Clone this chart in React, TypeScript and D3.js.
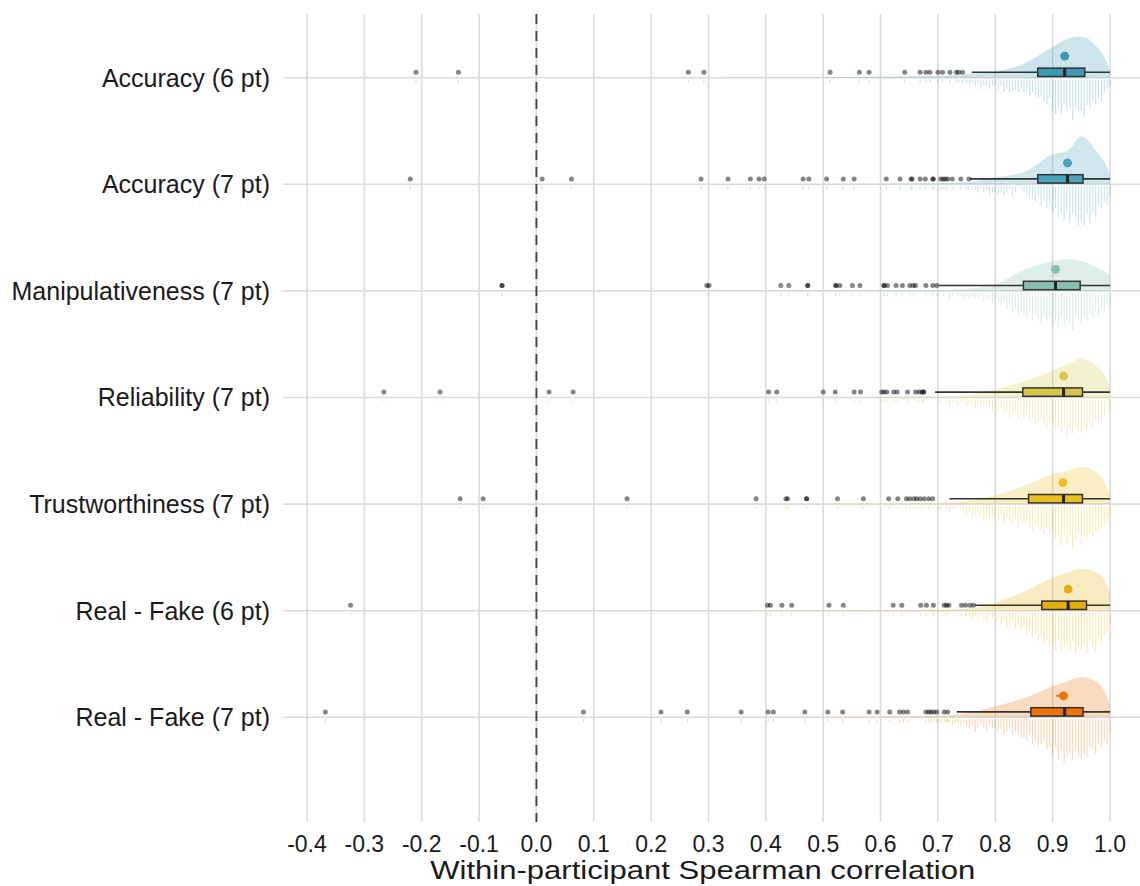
import React, { useEffect, useRef } from 'react';
import * as d3 from 'd3';

// raincloud: half density above, box + outliers on the line, rug below

const categories = [
  'Accuracy (6 pt)',
  'Accuracy (7 pt)',
  'Manipulativeness (7 pt)',
  'Reliability (7 pt)',
  'Trustworthiness (7 pt)',
  'Real - Fake (6 pt)',
  'Real - Fake (7 pt)',
];

const colors = ['#3b9ab2', '#4aa2bb', '#86bfb0', '#d3c84a', '#e8bf1e', '#e4b00e', '#ec7408'];

const xTicks = [-0.4, -0.3, -0.2, -0.1, 0, 0.1, 0.2, 0.3, 0.4, 0.5, 0.6, 0.7, 0.8, 0.9, 1.0];
const xTickLabels = ['-0.4', '-0.3', '-0.2', '-0.1', '0.0', '0.1', '0.2', '0.3', '0.4', '0.5', '0.6', '0.7', '0.8', '0.9', '1.0'];

// box stats
const whiskerLow = [0.759, 0.756, 0.702, 0.695, 0.72, 0.765, 0.733];
const q1 = [0.874, 0.874, 0.849, 0.848, 0.858, 0.881, 0.862];
const medians = [0.921, 0.926, 0.905, 0.919, 0.919, 0.927, 0.921];
const q3 = [0.956, 0.953, 0.948, 0.952, 0.952, 0.959, 0.953];
const whiskerHigh = [1, 1, 1, 1, 1, 1, 1];

// point estimate with interval, drawn above the box
const centers = [0.921, 0.926, 0.905, 0.919, 0.918, 0.927, 0.919];
const ciLow = [0.915, 0.918, 0.899, 0.914, 0.911, 0.921, 0.906];
const ciHigh = [0.927, 0.933, 0.911, 0.925, 0.925, 0.933, 0.926];

const outliers = [
  [-0.21, -0.136, 0.265, 0.292, 0.512, 0.563, 0.58, 0.642, 0.669, 0.679, 0.686, 0.7, 0.708, 0.721, 0.732, 0.736, 0.743],
  [-0.22, 0.01, 0.061, 0.287, 0.334, 0.373, 0.388, 0.397, 0.465, 0.475, 0.506, 0.535, 0.554, 0.61, 0.634, 0.653, 0.655, 0.669, 0.678, 0.691, 0.692, 0.705, 0.709, 0.713, 0.717, 0.725, 0.74, 0.754],
  [-0.06, -0.06, 0.297, 0.301, 0.426, 0.44, 0.473, 0.473, 0.522, 0.522, 0.529, 0.551, 0.564, 0.606, 0.606, 0.612, 0.627, 0.638, 0.651, 0.657, 0.661, 0.679, 0.691, 0.698],
  [-0.266, -0.168, 0.022, 0.064, 0.405, 0.419, 0.5, 0.521, 0.554, 0.565, 0.602, 0.606, 0.611, 0.623, 0.629, 0.647, 0.661, 0.667, 0.672, 0.675, 0.675],
  [-0.133, -0.093, 0.158, 0.383, 0.435, 0.438, 0.471, 0.471, 0.525, 0.57, 0.614, 0.63, 0.645, 0.651, 0.658, 0.663, 0.669, 0.676, 0.684, 0.691],
  [-0.324, 0.403, 0.408, 0.428, 0.445, 0.51, 0.535, 0.622, 0.637, 0.67, 0.68, 0.692, 0.711, 0.715, 0.719, 0.741, 0.748, 0.756, 0.762],
  [-0.368, 0.082, 0.217, 0.263, 0.357, 0.404, 0.413, 0.468, 0.508, 0.534, 0.58, 0.594, 0.616, 0.633, 0.64, 0.647, 0.679, 0.684, 0.688, 0.693, 0.698, 0.711, 0.717],
];

// density
const densityX = [0.3, 0.4, 0.5, 0.55, 0.6, 0.65, 0.7, 0.75, 0.8, 0.85, 0.9, 0.925, 0.95, 0.975, 1.0];
const densities = [
  [0, 0.04, 0.1, 0.14, 0.2, 0.3, 0.4, 0.7, 1.2, 2.8, 6.2, 7.8, 8.2, 6.4, 1.2],
  [0, 0.04, 0.08, 0.1, 0.12, 0.16, 0.2, 0.4, 1.4, 2.4, 6.0, 6.6, 9.6, 6.8, 1.6],
  [0, 0.04, 0.1, 0.1, 0.1, 0.16, 0.2, 0.4, 1.4, 4.2, 6.0, 6.4, 6.0, 4.8, 3.0],
  [0, 0.04, 0.08, 0.1, 0.12, 0.16, 0.2, 0.4, 1.6, 3.2, 5.4, 6.6, 7.8, 6.4, 2.2],
  [0, 0.04, 0.08, 0.1, 0.12, 0.16, 0.2, 0.6, 1.8, 3.6, 6.0, 6.6, 7.4, 6.4, 1.6],
  [0, 0.04, 0.08, 0.1, 0.12, 0.16, 0.2, 0.4, 1.6, 3.8, 6.6, 7.6, 8.4, 7.8, 3.6],
  [0, 0.04, 0.08, 0.1, 0.12, 0.2, 0.3, 0.8, 2.2, 3.8, 6.2, 7.2, 8.0, 7.2, 2.4],
];

// rug counts, bins of 0.005 from 0.700 to 1.000
const rugStart = 0.7;
const rugStep = 0.005;
const rugCounts = [
  [0,0,0,0,0,0,0,0,0,0, 1,1,1,2,1,3,2,2,3,2, 2,3,2,4,3,4,4,3,4,3, 4,4,5,4,5,6,5,7,8,6, 10,11,9,11,8,10,9,13,9,10, 10,12,8,9,7,8,6,7,4,3, 2],
  [0,0,0,0,0,0,0,0,0,0, 1,0,1,1,2,1,2,1,3,2, 2,3,2,3,2,1,3,2,0,1, 2,3,4,4,5,3,6,5,7,6, 8,7,10,9,11,8,12,9,10,13, 11,13,9,12,8,10,6,7,5,6, 3],
  [1,0,1,0,2,1,0,1,1,2, 1,2,1,2,2,1,3,2,2,3, 2,3,4,3,5,4,6,5,7,6, 7,8,6,9,7,8,10,7,9,8, 10,9,12,8,11,9,10,12,8,9, 10,8,9,7,8,6,7,5,6,4, 3],
  [1,1,0,1,2,1,1,2,1,1, 2,1,2,3,1,2,3,2,3,4, 5,4,3,5,4,6,5,4,6,5, 6,5,7,6,8,7,6,8,9,7, 8,10,9,11,9,12,10,11,9,10, 11,9,10,8,9,7,8,6,5,4, 3],
  [1,1,0,1,2,1,1,0,1,2, 3,2,4,3,2,3,5,3,4,3, 4,5,3,6,4,5,6,4,7,5, 6,5,7,8,6,7,8,9,7,8, 9,11,10,13,9,12,10,14,11,9, 12,10,11,9,10,8,9,7,6,5, 3],
  [0,0,0,0,0,0,0,0,0,0, 1,1,2,1,2,1,2,3,1,2, 3,2,4,3,5,4,3,5,4,6, 5,7,6,8,7,9,8,10,9,11, 10,12,9,13,11,10,12,9,13,11, 12,10,13,9,11,12,8,10,7,6, 4],
  [1,1,0,1,1,2,1,1,2,1, 2,3,2,4,3,2,3,4,2,3, 3,4,3,5,4,3,5,4,5,6, 6,7,5,8,7,9,8,7,10,9, 11,9,13,10,14,12,11,13,10,12, 13,11,12,9,10,11,8,9,7,8, 4],
];

const width = 1140;
const height = 886;
const panel = { left: 283, right: 1140, top: 14, bottom: 822 };
const font = "'Liberation Sans', Arial, Helvetica, sans-serif";

const App = () => {
  const chartRef = useRef(null);

  useEffect(() => {
    const svg = d3.select(chartRef.current);
    svg.selectAll('*').remove();

    const xScale = d3.scaleLinear().domain([-0.4, 1.0]).range([307, 1110]);
    const yScale = d3.scalePoint().domain(categories).range([77.7, 717.3]);
    const densScale = d3.scaleLinear().domain([0, 1]).range([0, 5]);
    const rugScale = d3.scaleLinear().domain([0, 1]).range([0, 3.1]);

    // grid
    svg.append('g')
      .selectAll('line')
      .data(xTicks)
      .enter()
      .append('line')
      .attr('x1', d => xScale(d))
      .attr('x2', d => xScale(d))
      .attr('y1', panel.top)
      .attr('y2', panel.bottom)
      .attr('stroke', '#dcdcdc')
      .attr('stroke-width', 1.6);

    svg.append('g')
      .selectAll('line')
      .data(categories)
      .enter()
      .append('line')
      .attr('x1', panel.left)
      .attr('x2', panel.right)
      .attr('y1', d => yScale(d))
      .attr('y2', d => yScale(d))
      .attr('stroke', '#dcdcdc')
      .attr('stroke-width', 1.6);

    svg.append('line')
      .attr('x1', xScale(0))
      .attr('x2', xScale(0))
      .attr('y1', panel.top)
      .attr('y2', panel.bottom)
      .attr('stroke', '#444')
      .attr('stroke-width', 1.9)
      .attr('stroke-dasharray', '10,7');

    categories.forEach((cat, i) => {
      const y0 = yScale(cat);
      const color = colors[i];
      const g = svg.append('g');

      // half violin
      const area = d3.area()
        .x(d => xScale(d[0]))
        .y0(y0)
        .y1(d => y0 - densScale(d[1]))
        .curve(d3.curveMonotoneX);
      const pts = densityX.map((x, k) => [x, densities[i][k]]);
      pts.push([1.0, 0]);
      g.append('path')
        .attr('d', area(pts))
        .attr('fill', color)
        .attr('fill-opacity', 0.26);

      // rug
      const rug = rugCounts[i].map((c, k) => [rugStart + k * rugStep, c]).filter(d => d[1] > 0);
      outliers[i].forEach(v => rug.push([v, 1]));
      g.selectAll('line.rug')
        .data(rug)
        .enter()
        .append('line')
        .attr('class', 'rug')
        .attr('x1', d => xScale(d[0]))
        .attr('x2', d => xScale(d[0]))
        .attr('y1', y0 + 2)
        .attr('y2', d => y0 + 2 + rugScale(d[1]))
        .attr('stroke', color)
        .attr('stroke-opacity', 0.3)
        .attr('stroke-width', 1.1);

      const yb = y0 - 5.4;

      // whiskers
      g.append('line')
        .attr('x1', xScale(whiskerLow[i]))
        .attr('x2', xScale(whiskerHigh[i]))
        .attr('y1', yb)
        .attr('y2', yb)
        .attr('stroke', '#333')
        .attr('stroke-width', 1.6);

      g.append('rect')
        .attr('x', xScale(q1[i]))
        .attr('y', yb - 4.2)
        .attr('width', xScale(q3[i]) - xScale(q1[i]))
        .attr('height', 8.4)
        .attr('fill', color)
        .attr('stroke', '#333')
        .attr('stroke-width', 1.5);

      g.append('line')
        .attr('x1', xScale(medians[i]))
        .attr('x2', xScale(medians[i]))
        .attr('y1', yb - 4.2)
        .attr('y2', yb + 4.2)
        .attr('stroke', '#222')
        .attr('stroke-width', 3);

      // outlier points
      g.selectAll('circle.out')
        .data(outliers[i])
        .enter()
        .append('circle')
        .attr('class', 'out')
        .attr('cx', d => xScale(d))
        .attr('cy', yb)
        .attr('r', 2.5)
        .attr('fill', '#000')
        .attr('fill-opacity', 0.48);

      // point estimate
      const yc = y0 - 21.5;
      g.append('line')
        .attr('x1', xScale(ciLow[i]))
        .attr('x2', xScale(ciHigh[i]))
        .attr('y1', yc)
        .attr('y2', yc)
        .attr('stroke', color)
        .attr('stroke-width', 2);
      g.append('circle')
        .attr('cx', xScale(centers[i]))
        .attr('cy', yc)
        .attr('r', 4.4)
        .attr('fill', color);
    });

    // y labels
    svg.append('g')
      .selectAll('text')
      .data(categories)
      .enter()
      .append('text')
      .attr('x', 270)
      .attr('y', d => yScale(d) + 8.8)
      .attr('text-anchor', 'end')
      .attr('font-family', font)
      .attr('font-size', 25)
      .attr('fill', '#1a1a1a')
      .text(d => d);

    // x labels
    svg.append('g')
      .selectAll('text')
      .data(xTicks)
      .enter()
      .append('text')
      .attr('x', d => xScale(d))
      .attr('y', 852)
      .attr('text-anchor', 'middle')
      .attr('font-family', font)
      .attr('font-size', 23)
      .attr('fill', '#1a1a1a')
      .text((d, k) => xTickLabels[k]);

    svg.append('text')
      .attr('x', xScale(0.29))
      .attr('y', 879)
      .attr('text-anchor', 'middle')
      .attr('font-family', font)
      .attr('font-size', 26)
      .attr('textLength', 545)
      .attr('lengthAdjust', 'spacingAndGlyphs')
      .attr('fill', '#1a1a1a')
      .text('Within-participant Spearman correlation');
  });

  return (
    <svg
      ref={chartRef}
      width={width}
      height={height}
      viewBox={`0 0 ${width} ${height}`}
      style={{ position: 'absolute', left: 0, top: 0, background: '#fff' }}
    />
  );
};

export default App;
